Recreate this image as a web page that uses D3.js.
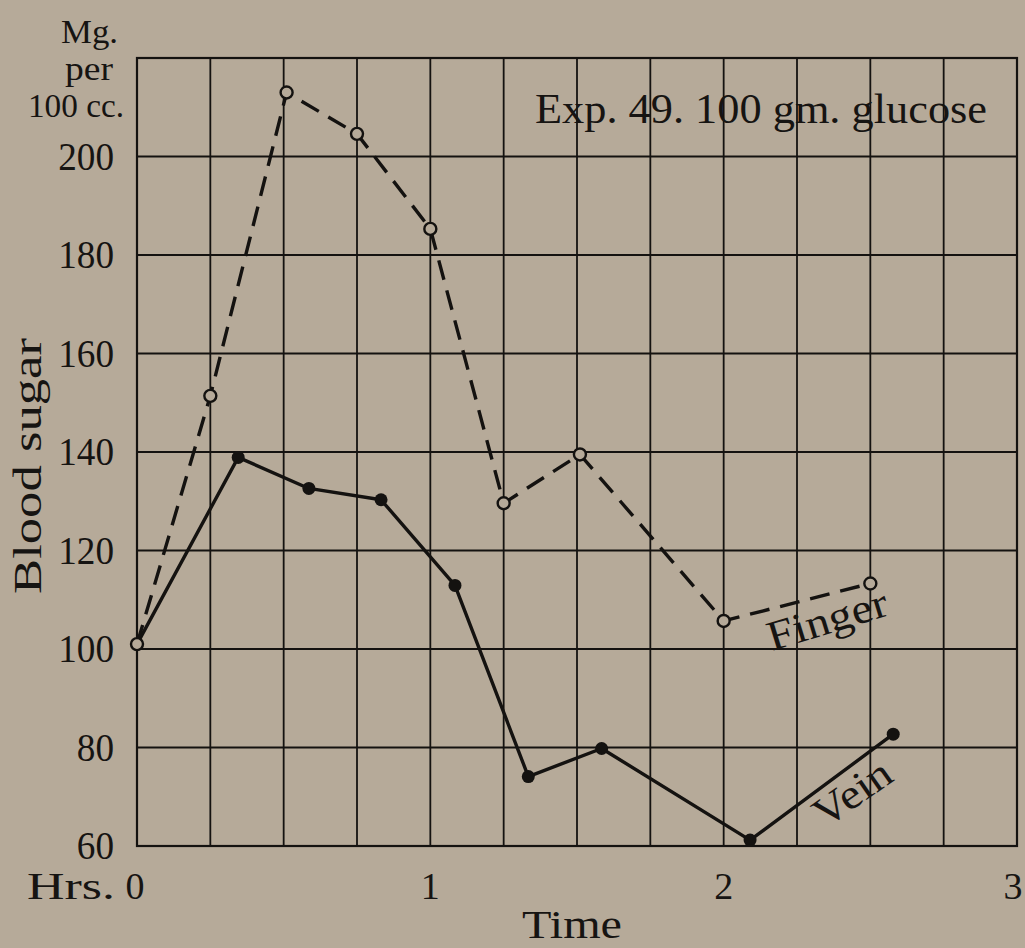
<!DOCTYPE html>
<html>
<head>
<meta charset="utf-8">
<script src="https://cdn.jsdelivr.net/npm/d3@7"></script>
<style>
  html, body { margin: 0; padding: 0; background: #b6aa99; }
  svg { display: block; }
  text { font-family: "Liberation Serif", "DejaVu Serif", serif; fill: #161412; }
</style>
</head>
<body>
<div id="chart"></div>
<script>
// hours after glucose, blood sugar mg per 100 cc
const fingerHours = [0, 0.25, 0.51, 0.75, 1.0, 1.25, 1.51, 2.0, 2.5]
const fingerSugar = [101, 151.4, 213, 204.6, 185.3, 129.6, 139.5, 105.7, 113.3]
const veinHours = [0, 0.345, 0.586, 0.832, 1.084, 1.334, 1.584, 2.09, 2.578]
const veinSugar = [101, 138.9, 132.6, 130.3, 112.9, 74.1, 79.8, 61.2, 82.7]

const yTicks = [60, 80, 100, 120, 140, 160, 180, 200]
const xTicks = [0, 1, 2, 3]
const xGrid = d3.range(0, 3.01, 0.25)
const yGrid = d3.range(60, 221, 20)

const width = 1025, height = 948
const margin = {top: 58, right: 8, bottom: 102, left: 137}

const svg = d3.select("#chart").append("svg")
  .attr("width", width)
  .attr("height", height)

const x = d3.scaleLinear().domain([0, 3]).range([margin.left, width - margin.right])
const y = d3.scaleLinear().domain([60, 220]).range([height - margin.bottom, margin.top])

const ink = "#141210"
const paper = "#b6aa99"

// grid
const grid = svg.append("g")
grid.selectAll("line.v").data(xGrid).enter().append("line")
  .attr("class", "v")
  .attr("x1", d => x(d)).attr("x2", d => x(d))
  .attr("y1", y(220)).attr("y2", y(60))
  .attr("stroke", ink).attr("stroke-width", 1.8)
grid.selectAll("line.h").data(yGrid).enter().append("line")
  .attr("class", "h")
  .attr("x1", x(0)).attr("x2", x(3))
  .attr("y1", d => y(d)).attr("y2", d => y(d))
  .attr("stroke", ink).attr("stroke-width", 1.8)
grid.append("rect")
  .attr("x", x(0)).attr("y", y(220))
  .attr("width", x(3) - x(0)).attr("height", y(60) - y(220))
  .attr("fill", "none").attr("stroke", ink).attr("stroke-width", 2.2)

// y axis labels (digits drawn a bit narrower, like the old type)
svg.append("g").selectAll("text").data(yTicks).enter().append("text")
  .attr("x", 114)
  .attr("y", d => y(d) + 13)
  .attr("text-anchor", "end")
  .style("font-size", "40px")
  .attr("textLength", d => String(d).length * 18.6)
  .attr("lengthAdjust", "spacingAndGlyphs")
  .text(d => d)

// x axis labels
svg.append("g").selectAll("text").data(xTicks).enter().append("text")
  .attr("x", d => x(d) + (d === 0 ? -2 : d === 3 ? -4 : 0))
  .attr("y", 899)
  .attr("text-anchor", "middle")
  .style("font-size", "38px")
  .text(d => d)

svg.append("text").attr("x", 27).attr("y", 899)
  .attr("textLength", 88).attr("lengthAdjust", "spacingAndGlyphs")
  .style("font-size", "38px").text("Hrs.")

// unit label
const unit = [["Mg.", 43, 118, 57], ["per", 80, 113, 48], ["100 cc.", 117, 124, 96]]
unit.forEach(u => {
  svg.append("text").attr("x", u[2] - u[3]).attr("y", u[1])
    .attr("textLength", u[3]).attr("lengthAdjust", "spacingAndGlyphs")
    .style("font-size", "33px")
    .text(u[0])
})

// axis titles
svg.append("text")
  .attr("transform", "translate(41,466) rotate(-90)")
  .attr("text-anchor", "middle")
  .attr("textLength", 256).attr("lengthAdjust", "spacingAndGlyphs")
  .style("font-size", "40px")
  .text("Blood sugar")

svg.append("text")
  .attr("x", 572).attr("y", 938)
  .attr("text-anchor", "middle")
  .attr("textLength", 100).attr("lengthAdjust", "spacingAndGlyphs")
  .style("font-size", "39px")
  .text("Time")

svg.append("text")
  .attr("x", 535).attr("y", 123)
  .attr("textLength", 452).attr("lengthAdjust", "spacingAndGlyphs")
  .style("font-size", "43px")
  .text("Exp. 49. 100 gm. glucose")

// series
const finger = fingerHours.map((h, i) => ({h: h, v: fingerSugar[i]}))
const vein = veinHours.map((h, i) => ({h: h, v: veinSugar[i]}))
const line = d3.line().x(d => x(d.h)).y(d => y(d.v))

svg.append("path").datum(vein)
  .attr("d", line)
  .attr("fill", "none").attr("stroke", ink).attr("stroke-width", 3.4)
  .attr("stroke-linejoin", "round")

svg.append("path").datum(finger)
  .attr("d", line)
  .attr("fill", "none").attr("stroke", ink).attr("stroke-width", 3.4)
  .attr("stroke-dasharray", "20,11")

svg.append("g").selectAll("circle").data(vein.slice(1)).enter().append("circle")
  .attr("cx", d => x(d.h)).attr("cy", d => y(d.v))
  .attr("r", 6.5).attr("fill", ink)

svg.append("g").selectAll("circle").data(finger).enter().append("circle")
  .attr("cx", d => x(d.h)).attr("cy", d => y(d.v))
  .attr("r", 6).attr("fill", paper)
  .attr("stroke", ink).attr("stroke-width", 2.4)

// series labels
svg.append("text")
  .attr("transform", "translate(772,651) rotate(-17)")
  .attr("textLength", 124).attr("lengthAdjust", "spacingAndGlyphs")
  .style("font-size", "42px")
  .text("Finger")

svg.append("text")
  .attr("transform", "translate(825,829) rotate(-35)")
  .attr("textLength", 86).attr("lengthAdjust", "spacingAndGlyphs")
  .style("font-size", "42px")
  .text("Vein")
</script>
</body>
</html>
